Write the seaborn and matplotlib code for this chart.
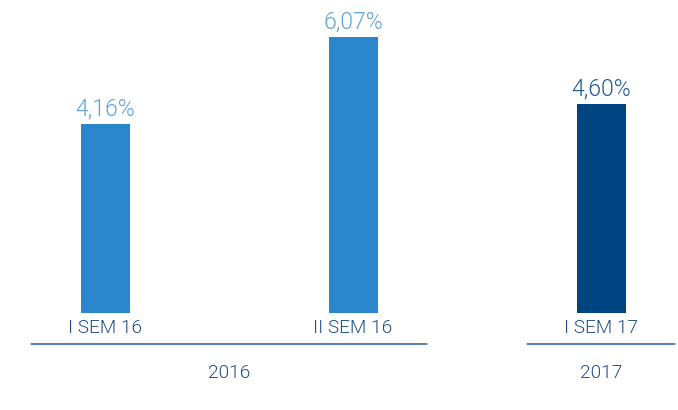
import matplotlib
matplotlib.use("Agg")
import matplotlib.pyplot as plt
import seaborn as sns

sns.set_theme(style="white")
plt.rcParams['font.family'] = ['Roboto', 'DejaVu Sans']

periods = ["I SEM 16", "II SEM 16", "I SEM 17"]
values = [4.16, 6.07, 4.60]
bar_colors = ["#2A86CA", "#2A86CA", "#004481"]
label_colors = ["#5AA3DB", "#5AA3DB", "#1F5A96"]
years = ["2016", "2017"]
year_spans = [(0, 1), (2, 2)]

DPI = 72
W, H = 678, 410
AX_H = 313  # pixel height of axes (baseline at y=313 from top)

fig = plt.figure(figsize=(W / DPI, H / DPI), dpi=DPI)
ax = fig.add_axes([0, (H - AX_H) / H, 1, AX_H / H])

sns.barplot(x=periods, y=values, hue=periods, palette=bar_colors,
            width=0.2, legend=False, ax=ax, saturation=1)

ax.set_xlim(-105 / 248, (W - 105) / 248)
ax.set_ylim(0, AX_H / 45.7)
ax.axis("off")

for cont, col in zip(ax.containers, label_colors):
    ax.bar_label(cont, labels=[f"{v:.2f}%".replace(".", ",") for v in cont.datavalues],
                 padding=2, color=col, fontsize=23, fontweight=300)

trans = ax.get_xaxis_transform()
def fy(px):
    return -px / AX_H

for i, p in enumerate(periods):
    ax.text(i, fy(15), p, transform=trans, ha="center", va="center",
            fontsize=19, color="#1F4E85", fontweight=300, clip_on=False)

for yr, (a, b) in zip(years, year_spans):
    ax.plot([a - 0.3, b + 0.3], [fy(31), fy(31)], transform=trans,
            color="#1F5A96", lw=1.5, clip_on=False)
    ax.text((a + b) / 2, fy(60), yr, transform=trans, ha="center", va="center",
            fontsize=19, color="#1F4E85", fontweight=300, clip_on=False)

fig.savefig("out.png", dpi=DPI, facecolor="white")
